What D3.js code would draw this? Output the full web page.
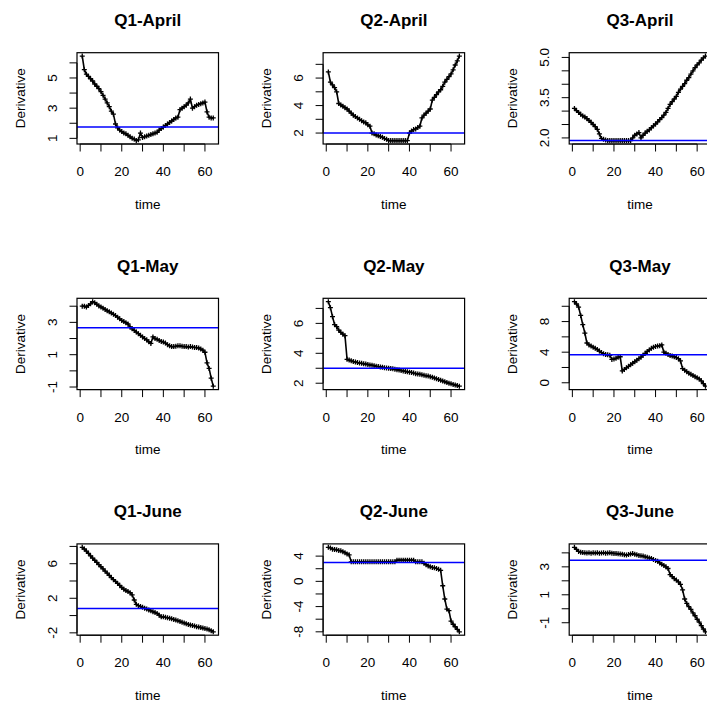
<!DOCTYPE html>
<html>
<head>
<meta charset="utf-8">
<script src="https://cdn.jsdelivr.net/npm/d3@7"></script>
<style>
  body { margin: 0; background: #fff; }
  svg { display: block; font-family: "Liberation Sans", Arial, sans-serif; }
</style>
</head>
<body>
<div id="chart"></div>
<script>
// panel titles, in reading order (3 x 3)
var titles = ["Q1-April", "Q2-April", "Q3-April",
              "Q1-May", "Q2-May", "Q3-May",
              "Q1-June", "Q2-June", "Q3-June"];

// derivative values, time = 1..64
var q1April = [6.45,5.55,5.25,5.1,4.95,4.8,4.6,4.45,4.3,4.1,
  3.85,3.6,3.35,3.1,2.8,2.6,1.95,1.7,1.55,1.45,
  1.35,1.3,1.2,1.1,1.0,0.95,0.85,0.9,1.35,1.05,
  1.1,1.15,1.2,1.25,1.3,1.35,1.4,1.55,1.65,1.75,
  1.85,1.95,2.05,2.15,2.25,2.35,2.4,2.9,3.0,3.1,
  3.2,3.35,3.6,3.0,3.1,3.2,3.25,3.3,3.35,3.4,
  2.75,2.4,2.35,2.35];
var q2April = [6.45,5.7,5.5,5.3,5.0,4.15,4.05,3.95,3.85,3.75,
  3.6,3.45,3.3,3.2,3.1,3.0,2.9,2.8,2.75,2.6,
  2.5,2.0,1.95,1.85,1.8,1.75,1.7,1.6,1.55,1.45,
  1.45,1.45,1.45,1.45,1.45,1.45,1.45,1.45,1.45,2.0,
  2.15,2.25,2.3,2.4,2.5,3.1,3.3,3.45,3.6,3.75,
  4.4,4.6,4.8,5.0,5.15,5.4,5.7,5.9,6.1,6.3,
  6.6,6.95,7.25,7.6];
var q3April = [3.1,3.02,2.95,2.88,2.82,2.78,2.72,2.65,2.58,2.5,
  2.42,2.32,2.15,1.98,1.95,1.92,1.9,1.9,1.9,1.9,
  1.9,1.9,1.9,1.9,1.9,1.9,1.9,1.9,2.0,2.1,
  2.15,2.2,2.0,2.1,2.18,2.25,2.3,2.38,2.45,2.52,
  2.6,2.68,2.76,2.85,2.95,3.1,3.25,3.35,3.45,3.55,
  3.7,3.82,3.92,4.02,4.15,4.25,4.38,4.5,4.62,4.72,
  4.8,4.9,4.98,5.05];
var q1May = [4.0,4.0,3.95,4.05,4.15,4.28,4.22,4.12,4.02,3.95,
  3.88,3.8,3.72,3.65,3.58,3.5,3.42,3.32,3.22,3.12,
  3.05,2.98,2.9,2.72,2.6,2.5,2.4,2.3,2.2,2.1,
  2.0,1.92,1.8,1.7,2.1,2.0,1.95,1.88,1.82,1.78,
  1.72,1.62,1.55,1.5,1.5,1.52,1.55,1.55,1.52,1.5,
  1.5,1.48,1.5,1.47,1.45,1.44,1.42,1.35,1.28,1.15,
  0.5,0.15,-0.45,-0.95];
var q2May = [7.45,7.05,6.45,5.92,5.78,5.55,5.4,5.28,5.18,3.6,
  3.55,3.5,3.45,3.42,3.38,3.35,3.33,3.3,3.28,3.25,
  3.22,3.2,3.17,3.13,3.11,3.09,3.07,3.04,3.02,3.0,
  2.98,2.96,2.93,2.9,2.88,2.85,2.82,2.79,2.76,2.74,
  2.72,2.68,2.64,2.62,2.6,2.57,2.53,2.5,2.48,2.44,
  2.4,2.35,2.3,2.25,2.2,2.15,2.1,2.05,2.0,1.96,
  1.92,1.88,1.84,1.8];
var q3May = [10.6,10.3,9.9,8.8,7.6,6.5,5.2,4.95,4.8,4.65,
  4.5,4.35,4.15,3.95,3.8,3.7,3.65,3.6,3.05,3.1,
  3.2,3.35,3.4,1.55,1.75,1.95,2.15,2.35,2.55,2.75,
  2.95,3.15,3.35,3.6,3.85,4.1,4.3,4.5,4.65,4.75,
  4.8,4.85,4.95,4.0,3.85,3.7,3.55,3.5,3.4,3.3,
  3.15,2.85,1.85,1.65,1.45,1.25,1.1,0.95,0.8,0.65,
  0.5,0.25,-0.1,-0.45];
var q1June = [7.9,7.7,7.45,7.2,6.9,6.65,6.4,6.15,5.9,5.65,
  5.4,5.15,4.9,4.65,4.4,4.15,3.95,3.72,3.5,3.25,
  3.05,2.9,2.78,2.65,2.4,1.8,1.3,1.15,1.05,0.95,
  0.85,0.75,0.65,0.55,0.45,0.35,0.25,0.05,-0.15,-0.15,
  -0.2,-0.25,-0.3,-0.38,-0.45,-0.52,-0.6,-0.68,-0.78,-0.85,
  -0.95,-1.02,-1.1,-1.15,-1.2,-1.28,-1.33,-1.38,-1.45,-1.5,
  -1.55,-1.65,-1.75,-1.88];
var q2June = [5.4,5.3,5.1,5.05,5.0,4.9,4.85,4.7,4.55,4.35,
  4.2,3.1,3.1,3.1,3.1,3.1,3.1,3.1,3.1,3.1,
  3.1,3.1,3.1,3.1,3.1,3.1,3.1,3.1,3.1,3.1,
  3.1,3.1,3.1,3.35,3.35,3.35,3.35,3.35,3.35,3.35,
  3.35,3.35,3.1,3.1,3.1,3.1,2.85,2.65,2.45,2.3,
  2.2,2.15,2.05,1.9,1.75,-0.7,-2.8,-4.4,-4.65,-6.3,
  -6.8,-7.2,-7.6,-8.0];
var q3June = [4.4,4.25,4.1,4.05,4.02,4.0,3.99,4.0,3.98,4.0,
  3.99,4.0,3.98,3.99,4.0,3.98,3.99,4.0,3.98,3.96,
  3.95,3.93,3.92,3.9,3.87,3.84,3.88,3.92,3.95,3.9,
  3.86,3.82,3.8,3.77,3.72,3.68,3.64,3.6,3.52,3.46,
  3.4,3.28,3.18,3.1,3.0,2.88,2.45,2.3,2.15,2.05,
  1.92,1.75,1.35,0.7,0.38,0.15,-0.05,-0.3,-0.5,-0.75,
  -0.95,-1.2,-1.45,-1.65];

// horizontal reference level (blue line) per panel
var blueLevels = [1.75, 2.0, 1.9, 2.67, 3.0, 3.66, 0.82, 3.0, 3.48];

// y ticks and which of them carry a label (R drops overlapping ones)
var yTicks = [[1,2,3,4,5,6], [2,3,4,5,6,7], [2,2.5,3,3.5,4,4.5,5],
              [-1,0,1,2,3,4], [2,3,4,5,6,7], [0,2,4,6,8,10],
              [-2,0,2,4,6,8], [-8,-6,-4,-2,0,2,4], [-1,0,1,2,3,4]];
var yLabels = [["1","3","5"], ["2","4","6"], ["2.0","3.5","5.0"],
               ["-1","1","3"], ["2","4","6"], ["0","4","8"],
               ["-2","2","6"], ["-8","-4","0","4"], ["-1","1","3"]];
var xTicks = [0,10,20,30,40,50,60];
var xLabels = [0,20,40,60];

var series = [q1April, q2April, q3April, q1May, q2May, q3May, q1June, q2June, q3June];

var W = 707, H = 706;
var box = {left: 77, top: 52.7, w: 141.5, h: 91.3, colStep: 246.1, rowStep: 245.6};
var tickLen = 7.5;

var svg = d3.select("#chart").append("svg")
  .attr("width", W).attr("height", H);

svg.append("rect").attr("width", W).attr("height", H).attr("fill", "#fff");

series.forEach(function(vals, i) {
  var col = i % 3, row = Math.floor(i / 3);
  var left = box.left + col * box.colStep;
  var top = box.top + row * box.rowStep;
  var bottom = top + box.h, right = left + box.w;

  var pts = vals.map(function(v, k) { return {t: k + 1, v: v}; });

  // R style 4% padding
  var xp = (vals.length - 1) * 0.04;
  var x = d3.scaleLinear().domain([1 - xp, vals.length + xp]).range([left, right]);
  var ext = d3.extent(vals), yp = (ext[1] - ext[0]) * 0.04;
  var y = d3.scaleLinear().domain([ext[0] - yp, ext[1] + yp]).range([bottom, top]);

  var g = svg.append("g");

  // title
  g.append("text")
    .attr("x", (left + right) / 2).attr("y", top - 26.5)
    .attr("text-anchor", "middle")
    .style("font-size", "17px").style("font-weight", "bold")
    .text(titles[i]);

  // x axis
  g.append("line")
    .attr("x1", x(xTicks[0])).attr("x2", x(xTicks[xTicks.length - 1]))
    .attr("y1", bottom).attr("y2", bottom)
    .attr("stroke", "#000");
  g.selectAll(".xt").data(xTicks).enter().append("line")
    .attr("x1", function(d) { return x(d); }).attr("x2", function(d) { return x(d); })
    .attr("y1", bottom).attr("y2", bottom + tickLen)
    .attr("stroke", "#000");
  g.selectAll(".xl").data(xLabels).enter().append("text")
    .attr("x", function(d) { return x(d); }).attr("y", bottom + 32)
    .attr("text-anchor", "middle")
    .style("font-size", "13.5px")
    .text(function(d) { return d; });

  // y axis
  var yt = yTicks[i];
  g.append("line")
    .attr("x1", left).attr("x2", left)
    .attr("y1", y(yt[0])).attr("y2", y(yt[yt.length - 1]))
    .attr("stroke", "#000");
  g.selectAll(".yt").data(yt).enter().append("line")
    .attr("x1", left - tickLen).attr("x2", left)
    .attr("y1", function(d) { return y(d); }).attr("y2", function(d) { return y(d); })
    .attr("stroke", "#000");
  g.selectAll(".yl").data(yLabels[i]).enter().append("text")
    .attr("transform", function(d) {
      return "translate(" + (left - 20.5) + "," + y(+d) + ") rotate(-90)";
    })
    .attr("text-anchor", "middle")
    .style("font-size", "13.5px")
    .text(function(d) { return d; });

  // axis titles
  g.append("text")
    .attr("x", (left + right) / 2).attr("y", bottom + 64.5)
    .attr("text-anchor", "middle")
    .style("font-size", "13.5px")
    .text("time");
  g.append("text")
    .attr("transform", "translate(" + (left - 52) + "," + ((top + bottom) / 2) + ") rotate(-90)")
    .attr("text-anchor", "middle")
    .style("font-size", "13.5px")
    .text("Derivative");

  // data line with + markers
  var line = d3.line().x(function(d) { return x(d.t); }).y(function(d) { return y(d.v); });
  g.append("path").datum(pts)
    .attr("d", line)
    .attr("fill", "none").attr("stroke", "#000").attr("stroke-width", 1.6);
  g.selectAll(".pt").data(pts).enter().append("path")
    .attr("transform", function(d) { return "translate(" + x(d.t) + "," + y(d.v) + ")"; })
    .attr("d", "M-2.5,0H2.5M0,-2.5V2.5")
    .attr("stroke", "#000").attr("stroke-width", 1.3);

  // blue reference line
  g.append("line")
    .attr("x1", left).attr("x2", right)
    .attr("y1", y(blueLevels[i])).attr("y2", y(blueLevels[i]))
    .attr("stroke", "#0000ff").attr("stroke-width", 1.5);

  // box
  g.append("rect")
    .attr("x", left).attr("y", top).attr("width", box.w).attr("height", box.h)
    .attr("fill", "none").attr("stroke", "#000").attr("stroke-width", 1.2);
});
</script>
</body>
</html>
